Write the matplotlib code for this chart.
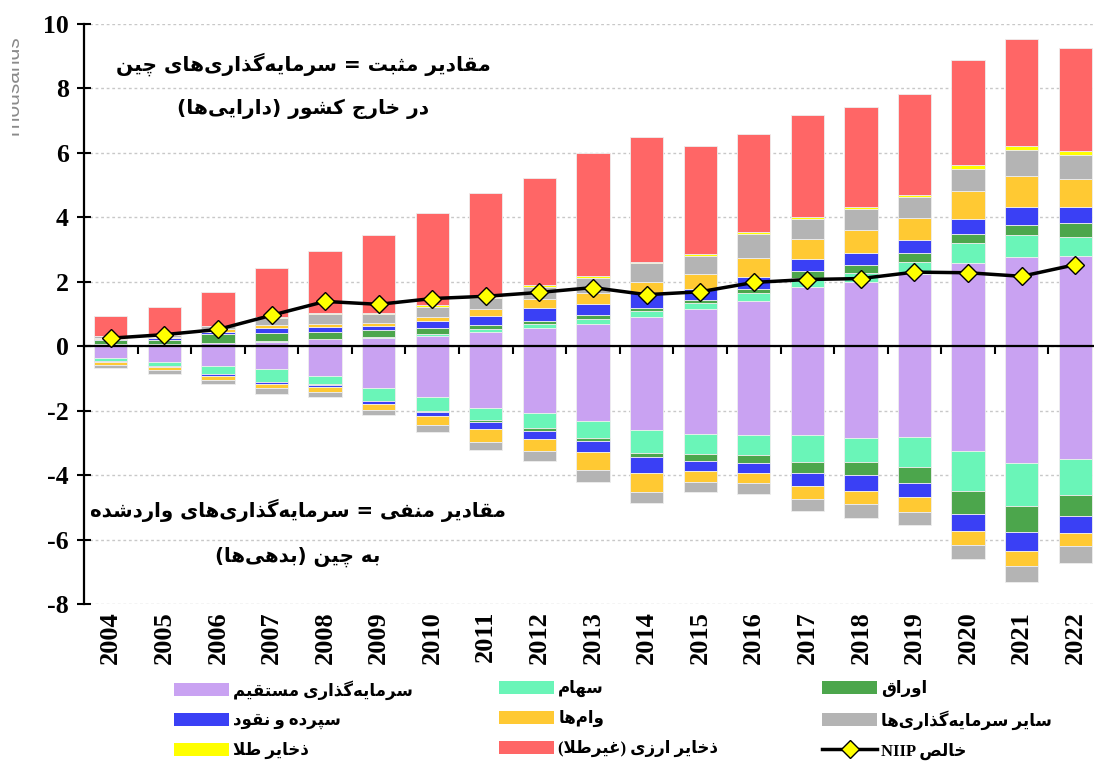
import matplotlib

matplotlib.use("Agg")

import numpy as np
import matplotlib.pyplot as plt
from matplotlib.patches import Patch
from matplotlib.lines import Line2D
from matplotlib.transforms import Bbox, TransformedBbox

# ---- data (thousands of billions USD) ----
years = [str(y) for y in range(2004, 2023)]

# assets, stacked upward in this order
fdi_assets = [0.05, 0.06, 0.09, 0.14, 0.21, 0.26, 0.32, 0.44, 0.55, 0.70,
              0.91, 1.15, 1.41, 1.84, 2.00, 2.24, 2.57, 2.78, 2.80]
equity_assets = [0.02, 0.02, 0.01, 0.02, 0.02, 0.04, 0.06, 0.08, 0.13, 0.14,
                 0.18, 0.18, 0.24, 0.29, 0.28, 0.37, 0.62, 0.66, 0.59]
debt_assets = [0.11, 0.11, 0.27, 0.26, 0.20, 0.20, 0.20, 0.13, 0.11, 0.13,
               0.09, 0.09, 0.14, 0.21, 0.23, 0.29, 0.29, 0.31, 0.44]
deposit_assets = [0.05, 0.06, 0.08, 0.14, 0.16, 0.13, 0.20, 0.28, 0.40, 0.34,
                  0.46, 0.35, 0.36, 0.36, 0.39, 0.39, 0.48, 0.56, 0.50]
loan_assets = [0.04, 0.04, 0.07, 0.09, 0.11, 0.10, 0.13, 0.24, 0.27, 0.33,
               0.36, 0.47, 0.58, 0.64, 0.70, 0.70, 0.85, 0.98, 0.86]
other_assets = [0.05, 0.05, 0.10, 0.24, 0.30, 0.26, 0.31, 0.32, 0.38, 0.48,
                0.58, 0.57, 0.76, 0.61, 0.65, 0.63, 0.70, 0.80, 0.74]
gold = [0.01, 0.01, 0.02, 0.02, 0.02, 0.04, 0.05, 0.03, 0.06, 0.05,
        0.03, 0.06, 0.06, 0.07, 0.08, 0.08, 0.12, 0.12, 0.14]
fx_reserves = [0.60, 0.87, 1.05, 1.52, 1.94, 2.42, 2.86, 3.23, 3.33, 3.84,
               3.88, 3.35, 3.03, 3.17, 3.09, 3.14, 3.24, 3.31, 3.18]

# liabilities, stacked downward in this order
fdi_liab = [0.37, 0.48, 0.62, 0.72, 0.91, 1.31, 1.58, 1.91, 2.07, 2.33,
            2.61, 2.71, 2.77, 2.74, 2.84, 2.81, 3.24, 3.61, 3.51]
equity_liab = [0.08, 0.12, 0.24, 0.38, 0.27, 0.39, 0.43, 0.39, 0.47, 0.52,
               0.69, 0.63, 0.62, 0.84, 0.76, 0.95, 1.26, 1.34, 1.12]
debt_liab = [0.01, 0.01, 0.01, 0.01, 0.02, 0.01, 0.02, 0.05, 0.09, 0.10,
             0.14, 0.23, 0.22, 0.34, 0.40, 0.49, 0.71, 0.81, 0.65]
deposit_liab = [0.03, 0.04, 0.05, 0.07, 0.08, 0.07, 0.15, 0.23, 0.24, 0.34,
                0.50, 0.31, 0.31, 0.43, 0.48, 0.43, 0.51, 0.61, 0.53]
loan_liab = [0.09, 0.10, 0.12, 0.11, 0.13, 0.19, 0.25, 0.38, 0.37, 0.56,
             0.58, 0.34, 0.33, 0.39, 0.42, 0.46, 0.44, 0.44, 0.40]
other_liab = [0.11, 0.12, 0.14, 0.20, 0.17, 0.17, 0.23, 0.25, 0.32, 0.35,
              0.35, 0.30, 0.35, 0.38, 0.43, 0.41, 0.43, 0.52, 0.52]

niip = [0.25, 0.36, 0.52, 0.96, 1.39, 1.30, 1.48, 1.55, 1.67, 1.82,
        1.60, 1.69, 1.98, 2.07, 2.10, 2.30, 2.28, 2.17, 2.53]

C_FDI = "#c9a2f2"
C_EQUITY = "#6af5b8"
C_DEBT = "#4ca64c"
C_DEPOSIT = "#3a40f5"
C_LOAN = "#ffc933"
C_OTHER = "#b4b4b4"
C_GOLD = "#ffff00"
C_FX = "#ff6666"

# ---- minimal Persian shaping: contextual forms + right-to-left order ----
ZWNJ = "\u200c"
FORMS = {  # isolated, final[, initial, medial]
    "ا": "\ufe8d\ufe8e", "د": "\ufea9\ufeaa", "ذ": "\ufeab\ufeac",
    "ر": "\ufead\ufeae", "ز": "\ufeaf\ufeb0", "و": "\ufeed\ufeee",
    "ب": "\ufe8f\ufe90\ufe91\ufe92", "پ": "\ufb56\ufb57\ufb58\ufb59",
    "ت": "\ufe95\ufe96\ufe97\ufe98", "ث": "\ufe99\ufe9a\ufe9b\ufe9c",
    "ج": "\ufe9d\ufe9e\ufe9f\ufea0", "چ": "\ufb7a\ufb7b\ufb7c\ufb7d",
    "خ": "\ufea5\ufea6\ufea7\ufea8", "س": "\ufeb1\ufeb2\ufeb3\ufeb4",
    "ش": "\ufeb5\ufeb6\ufeb7\ufeb8", "ص": "\ufeb9\ufeba\ufebb\ufebc",
    "ط": "\ufec1\ufec2\ufec3\ufec4", "غ": "\ufecd\ufece\ufecf\ufed0",
    "ف": "\ufed1\ufed2\ufed3\ufed4", "ق": "\ufed5\ufed6\ufed7\ufed8",
    "ک": "\ufb8e\ufb8f\ufb90\ufb91", "گ": "\ufb92\ufb93\ufb94\ufb95",
    "ل": "\ufedd\ufede\ufedf\ufee0", "م": "\ufee1\ufee2\ufee3\ufee4",
    "ن": "\ufee5\ufee6\ufee7\ufee8", "ه": "\ufee9\ufeea\ufeeb\ufeec",
    "ی": "\ufbfc\ufbfd\ufbfe\ufbff",
}
LAM_ALEF = "\ufefb\ufefc"
MIRROR = {"(": ")", ")": "("}


def _dual(ch):
    return ch in FORMS and len(FORMS[ch]) == 4


def fa(text):
    out = []
    i = 0
    while i < len(text):
        ch = text[i]
        if ch not in FORMS:
            if ch != ZWNJ:
                out.append(ch)
            i += 1
            continue
        joined_before = i > 0 and _dual(text[i - 1])
        if ch == "ل" and i + 1 < len(text) and text[i + 1] == "ا":
            out.append(LAM_ALEF[1] if joined_before else LAM_ALEF[0])
            i += 2
            continue
        joined_after = _dual(ch) and i + 1 < len(text) and text[i + 1] in FORMS
        forms = FORMS[ch]
        if joined_before and joined_after:
            out.append(forms[3])
        elif joined_before:
            out.append(forms[1])
        elif joined_after:
            out.append(forms[2])
        else:
            out.append(forms[0])
        i += 1
    return "".join(MIRROR.get(c, c) for c in reversed(out))


FA_FONT = dict(family="DejaVu Sans", weight="bold")
NUM_FONT = dict(family="Liberation Serif", weight="bold")

W, H = 1094, 765
fig = plt.figure(figsize=(W / 100, H / 100), dpi=100)
ax = fig.add_axes([84 / W, 1 - 604 / H, (1102 - 84) / W, 580 / H])

x = np.arange(len(years))
bar_w = 0.62
edge = dict(edgecolor="#eeeeee", linewidth=0.6)

bottom = np.zeros(len(years))
for vals, col in [(fdi_assets, C_FDI), (equity_assets, C_EQUITY),
                  (debt_assets, C_DEBT), (deposit_assets, C_DEPOSIT),
                  (loan_assets, C_LOAN), (other_assets, C_OTHER),
                  (gold, C_GOLD), (fx_reserves, C_FX)]:
    ax.bar(x, vals, bar_w, bottom=bottom, color=col, zorder=2, **edge)
    bottom += np.array(vals)

bottom = np.zeros(len(years))
for vals, col in [(fdi_liab, C_FDI), (equity_liab, C_EQUITY),
                  (debt_liab, C_DEBT), (deposit_liab, C_DEPOSIT),
                  (loan_liab, C_LOAN), (other_liab, C_OTHER)]:
    ax.bar(x, -np.array(vals), bar_w, bottom=bottom, color=col, zorder=2, **edge)
    bottom -= np.array(vals)

ax.plot(x, niip, color="black", lw=2.5, marker="D", ms=9.5,
        mfc="#ffff00", mec="black", mew=1, zorder=4)

ax.set_xlim(-0.5, len(years) - 0.5)
ax.set_ylim(-8, 10)
ax.set_yticks(np.arange(-8, 11, 2))
ax.set_yticklabels([str(v) for v in range(-8, 11, 2)], fontsize=18.5, **NUM_FONT)
ax.yaxis.grid(True, color="#c8c8c8", linestyle=(0, (2, 2)), lw=1)
ax.set_axisbelow(True)

for s in ["top", "right"]:
    ax.spines[s].set_visible(False)
ax.spines["left"].set_linewidth(1.6)
ax.spines["bottom"].set_position(("data", 0))
ax.spines["bottom"].set_linewidth(1.6)
ax.spines["bottom"].set_zorder(3)
ax.tick_params(axis="y", direction="inout", length=10, width=1.5, pad=6)
ax.set_xticks(np.arange(0.5, len(years) - 0.5, 1))
ax.set_xticklabels([])
ax.tick_params(axis="x", direction="out", length=6, width=1.5)

for i, yr in enumerate(years):
    ax.annotate(yr, xy=(i, 0), xycoords=("data", "axes fraction"),
                xytext=(0, -7), textcoords="offset pixels",
                rotation=90, ha="center", va="top", fontsize=19, **NUM_FONT)

# unit label at the far left, partly cut off
unit = fig.text(24 / W, 1 - 88 / H, "Thousands", rotation=90, ha="right",
                va="center", fontsize=15, color="#8a8a8a",
                family="Liberation Sans")
unit.set_clip_box(TransformedBbox(Bbox([[12 / W, 0], [1, 1]]), fig.transFigure))
unit.set_clip_on(True)

# notes explaining the sign convention
notes = [
    (303, 64, "مقادیر مثبت = سرمایه‌گذاری‌های چین", 14.5),
    (303, 109, "در خارج کشور (دارایی‌ها)", 14.5),
    (298, 510, "مقادیر منفی = سرمایه‌گذاری‌های واردشده", 14.2),
    (298, 557, "به چین (بدهی‌ها)", 14.2),
]
for px, py, txt, fs in notes:
    fig.text(px / W, 1 - py / H, fa(txt), ha="center", va="center",
             fontsize=fs, **FA_FONT)

# legend, three columns anchored at fixed positions
columns = [
    (174, [(C_FDI, "سرمایه‌گذاری مستقیم"), (C_DEPOSIT, "سپرده و نقود"),
           (C_GOLD, "ذخایر طلا")]),
    (499, [(C_EQUITY, "سهام"), (C_LOAN, "وام‌ها"),
           (C_FX, "ذخایر ارزی (غیرطلا)")]),
    (822, [(C_DEBT, "اوراق"), (C_OTHER, "سایر سرمایه‌گذاری‌ها"), (None, "NIIP")]),
]
for px, entries in columns:
    handles, labels = [], []
    for col, lab in entries:
        if col is None:
            handles.append(Line2D([], [], color="black", lw=2.5, marker="D",
                                  ms=9, mfc="#ffff00", mec="black", mew=1))
            labels.append("NIIP " + fa("خالص"))
        else:
            handles.append(Patch(facecolor=col, edgecolor="none"))
            labels.append(fa(lab))
    fig.legend(handles, labels, loc="upper left",
               bbox_to_anchor=(px / W, 1 - 680 / H), frameon=False,
               borderaxespad=0, borderpad=0, handlelength=3.3,
               handleheight=0.85, handletextpad=0.25, labelspacing=0.78,
               prop=dict(family=["Liberation Serif", "DejaVu Sans"],
                         weight="bold", size=12))

fig.savefig("out.png", dpi=100)
